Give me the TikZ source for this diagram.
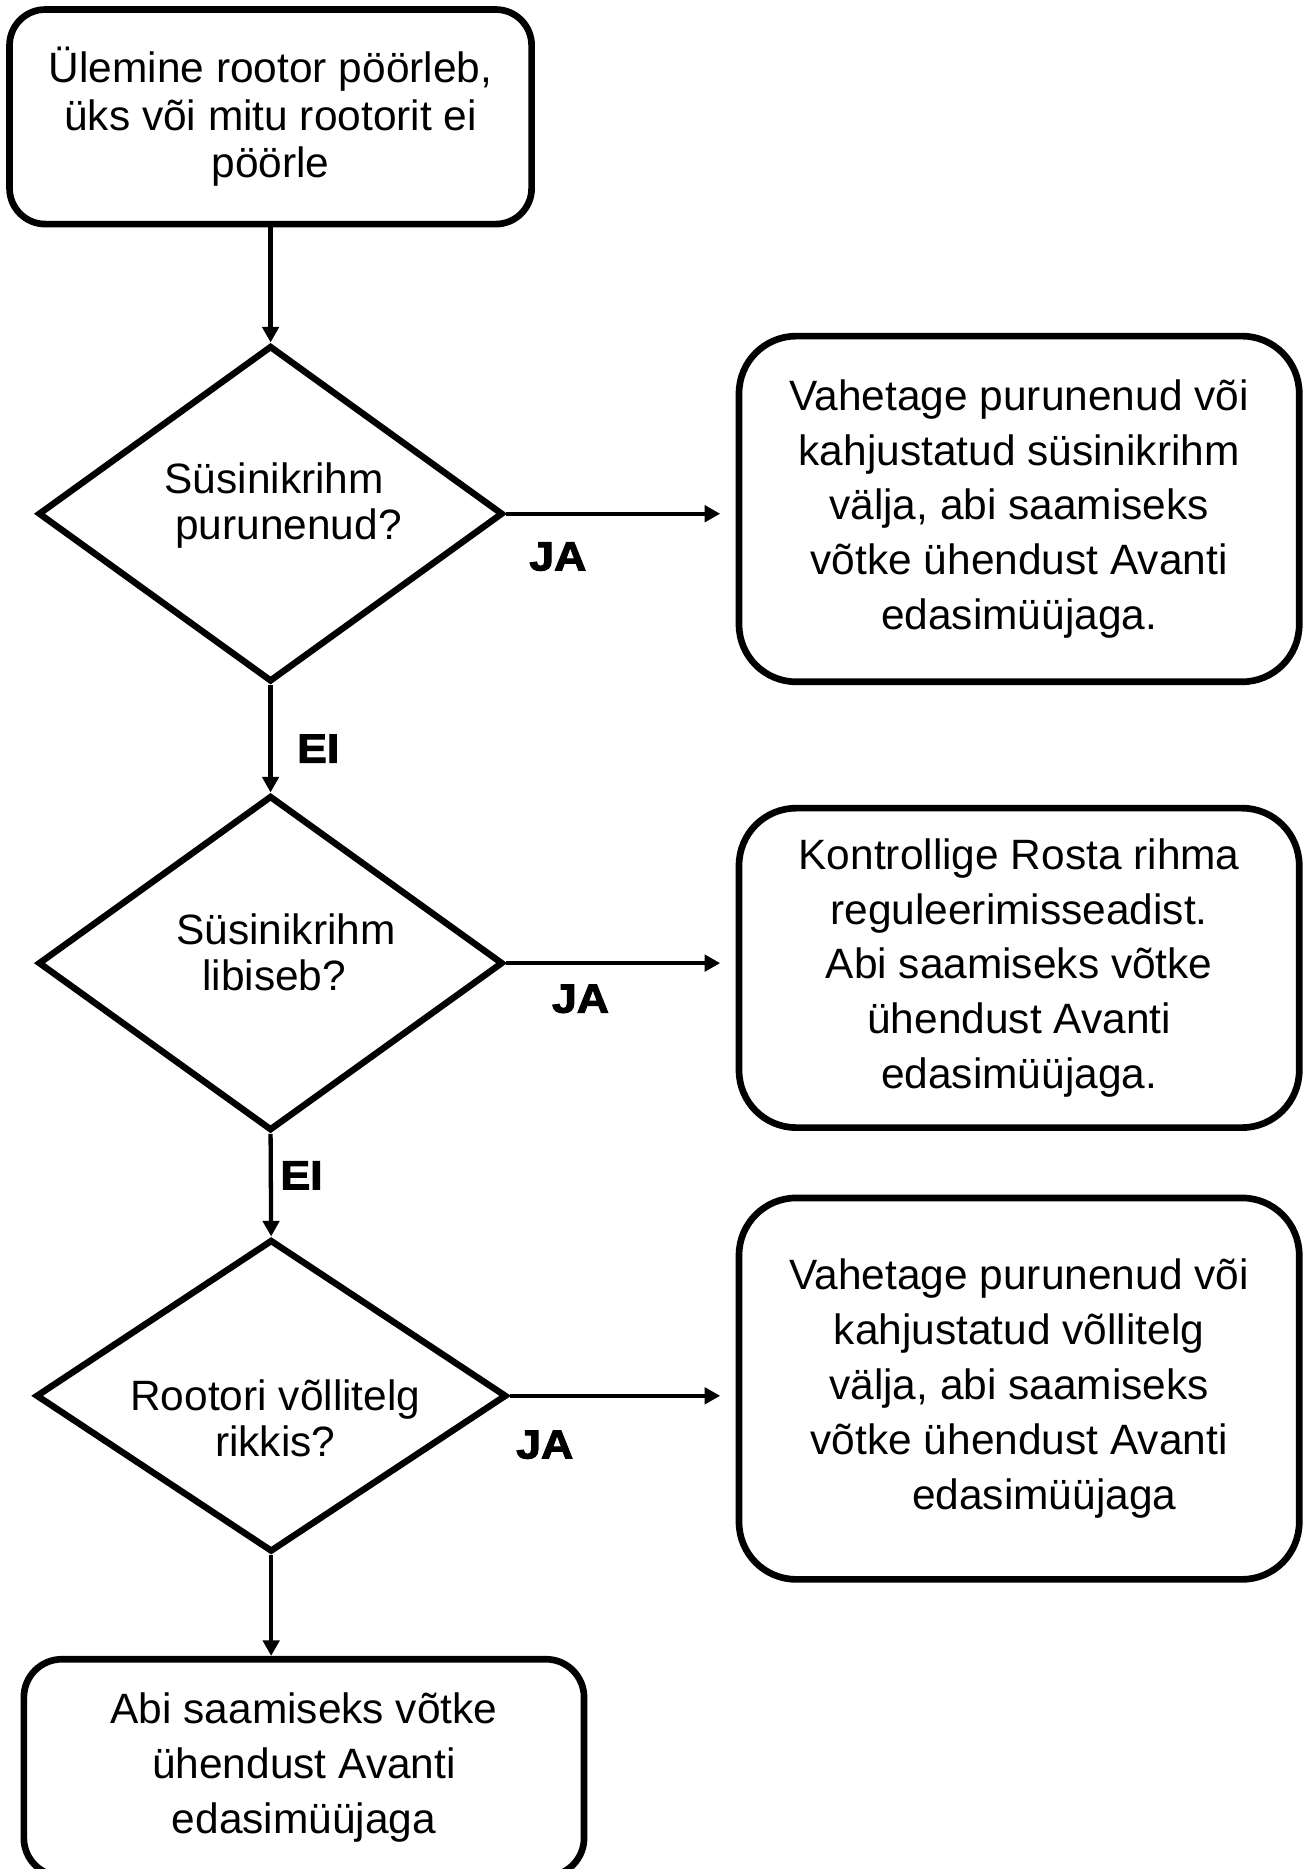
\documentclass[tikz,border=0pt]{standalone}
\usepackage{fontspec}
\setmainfont{Liberation Sans}
\newfontfamily\heavyfont[FakeBold=2.6,FakeStretch=1.1]{Liberation Sans Bold}
\usetikzlibrary{shapes.geometric,arrows.meta}
\tikzset{
  boxstyle/.style={draw=black,line width=2.8pt,rounded corners=#1,align=center,inner sep=0pt,
    font=\fontsize{17.8}{23}\selectfont},
  boxstyle/.default=22pt,
  decision/.style={draw=black,line width=2.7pt,diamond,inner sep=0pt},
  dtext/.style={align=center,inner sep=0pt,font=\fontsize{17.8}{19}\selectfont},
  conn/.style={line width=1.8pt,-{Triangle[length=6.5pt,width=6.8pt]}},
  yesno/.style={inner sep=0pt,font=\heavyfont\fontsize{17}{17}\selectfont}
}
\begin{document}
\begin{tikzpicture}[x=0.5pt,y=-0.5pt]
\useasboundingbox (0,0) rectangle (1094,1568);
% boxes
\node[boxstyle=15pt,minimum width=219pt,minimum height=90pt,font=\fontsize{17.8}{20}\selectfont] (top) at (227,98)
  {Ülemine rootor pöörleb,\\üks või mitu rootorit ei\\pöörle};
\node[boxstyle=24pt,minimum width=235pt,minimum height=145pt] (b1) at (855,427)
  {Vahetage purunenud või\\kahjustatud süsinikrihm\\välja, abi saamiseks\\võtke ühendust Avanti\\edasimüüjaga.};
\node[boxstyle=24pt,minimum width=235pt,minimum height=134pt] (b2) at (855,812)
  {Kontrollige Rosta rihma\\reguleerimisseadist.\\Abi saamiseks võtke\\ühendust Avanti\\edasimüüjaga.};
\node[boxstyle=24pt,minimum width=235pt,minimum height=160pt] (b3) at (855,1165)
  {Vahetage purunenud või\\kahjustatud võllitelg\\välja, abi saamiseks\\võtke ühendust Avanti\\\hspace*{21pt}edasimüüjaga};
\node[boxstyle=16pt,minimum width=235pt,minimum height=91pt] (bot) at (255,1483)
  {Abi saamiseks võtke\\ühendust Avanti\\edasimüüjaga};
% decisions
\node[decision,minimum width=195pt,minimum height=141pt] (d1) at (227,431) {};
\node[dtext] (d1t) at (230,424) {Süsinikrihm\\\hspace*{12pt}purunenud?};
\node[decision,minimum width=195pt,minimum height=140.5pt] (d2) at (227,808) {};
\node[dtext] (d2t) at (230,799) {\hspace*{10pt}Süsinikrihm\\libiseb?};
\node[decision,minimum width=197.5pt,minimum height=131pt] (d3) at (227.5,1171) {};
\node[dtext] (d3t) at (231,1190) {Rootori võllitelg\\rikkis?};
% connectors
\draw[conn] (top.south) -- (d1.north);
\draw[conn,shorten >=6.5pt] (d1.east) -- (d1.east -| b1.west);
\draw[conn] (d1.south) -- (d2.north);
\draw[conn,shorten >=6.5pt] (d2.east) -- (d2.east -| b2.west);
\draw[conn] (d2.south) -- (d3.north);
\draw[conn,shorten >=6.5pt] (d3.east) -- (d3.east -| b3.west);
\draw[conn] (d3.south) -- (d3.south |- bot.north);
% labels
\node[yesno] (ja1) at (468,467) {JA};
\node[yesno] (ei1) at (267,628) {EI};
\node[yesno] (ja2) at (487,838) {JA};
\node[yesno] (ei2) at (253,986) {EI};
\node[yesno] (ja3) at (457,1212) {JA};
\end{tikzpicture}
\end{document}
